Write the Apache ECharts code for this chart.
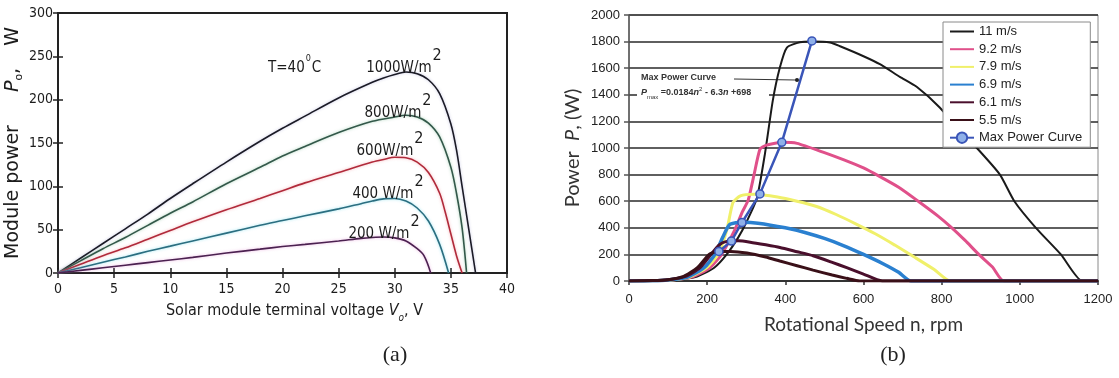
<!DOCTYPE html>
<html>
<head>
<meta charset="utf-8">
<script src="https://cdn.jsdelivr.net/npm/echarts@6/dist/echarts.min.js"></script>
<style>
  html, body { margin: 0; padding: 0; background: #fff; }
  #chart { width: 1119px; height: 378px; }
</style>
</head>
<body>
<div id="chart"></div>
<script>
// (a) module power vs terminal voltage at T = 40 C, points are [V, W]
const pv1000 = [[0,0],[2,17],[4,34],[6,51],[8,68],[10,86],[12,103],[15,128],[18,152],[20,167],[22,181],[25,202],[28,220],[29,225],[30,229],[31,232],[32,230],[33,223],[34,207],[35,172],[35.5,142],[36,100],[36.6,50],[37.2,0]];
const pv800 = [[0,0],[2,14],[4,28],[6,41],[8,55],[10,69],[12,82],[15,103],[18,122],[20,135],[22,146],[25,162],[28,175],[30,180],[31,182],[32,180],[33,173],[34,157],[35,122],[35.5,92],[36,52],[36.4,0]];
const pv600 = [[0,0],[2,10],[4,20],[6,29],[8,39],[10,49],[12,59],[15,73],[18,86],[20,95],[22,104],[25,116],[28,128],[29,131],[30,133.5],[31,133],[32,128],[33,116],[34,92],[34.5,70],[35,45],[35.5,20],[36,0]];
const pv400 = [[0,0],[2,6],[4,12.5],[6,18.5],[8,25],[10,31],[12,37],[15,46],[18,55],[20,60.5],[22,66],[25,74],[27,80],[28,83],[29,85.5],[30,86],[31,83],[32,75],[33,60],[34,33],[34.8,0]];
const pv200 = [[0,0],[2,3],[4,6],[6,9],[8,12],[10,15],[12,18],[15,23],[18,27.5],[20,30.5],[22,33],[25,37],[27,40],[28,41],[29,41.5],[30,40.5],[31,37],[32,28],[32.6,20],[33.2,0]];
const pvLabels = ['1000', '800', '600', '400', '200'];

// (b) turbine power vs rotational speed, points are [rpm, W]
const wind11 = [[0,0],[60,2],[110,8],[170,30],[218,100],[250,200],[280,330],[300,440],[327,620],[348,960],[368,1358],[386,1605],[404,1755],[437,1795],[470,1800],[514,1793],[540,1765],[600,1690],[642,1630],[693,1535],[736,1460],[795,1305],[850,1120],[890,1000],[949,800],[986,600],[1041,400],[1105,200],[1160,0],[1200,0]];
const wind92 = [[0,0],[60,2],[110,8],[160,30],[207,100],[237,200],[270,380],[290,520],[305,608],[320,800],[335,990],[350,1020],[391,1043],[430,1035],[500,965],[550,910],[600,850],[642,785],[690,705],[740,600],[790,490],[826,400],[860,305],[895,200],[930,105],[959,0],[1200,0]];
const wind79 = [[0,0],[60,2],[110,8],[155,30],[198,100],[228,200],[250,380],[266,590],[285,640],[320,652],[380,632],[430,600],[480,560],[530,500],[580,430],[630,355],[680,270],[730,180],[780,88],[822,0],[1200,0]];
const wind69 = [[0,0],[60,2],[100,8],[150,30],[192,100],[220,200],[240,330],[258,425],[290,442],[330,435],[400,400],[450,365],[500,320],[550,265],[600,200],[650,130],[690,65],[721,0],[1200,0]];
const wind61 = [[0,0],[60,3],[100,10],[145,35],[182,100],[210,200],[230,270],[250,298],[280,302],[310,292],[350,272],[386,252],[430,220],[471,190],[520,140],[557,100],[600,52],[648,0],[1200,0]];
const wind55 = [[0,0],[60,3],[100,10],[140,35],[175,100],[205,200],[225,222],[260,222],[302,210],[350,180],[386,150],[430,115],[471,82],[520,45],[557,20],[590,0],[1200,0]];
const maxPower = [[230,222],[262,300],[289,440],[335,655],[391,1043],[468,1805]];
const windNames = ['11 m/s', '9.2 m/s', '7.9 m/s', '6.9 m/s', '6.1 m/s', '5.5 m/s', 'Max Power Curve'];

const narrow = "'Liberation Sans Narrow', 'DejaVu Sans Condensed', 'Liberation Sans', sans-serif";
const arial = "'Liberation Sans', Arial, sans-serif";
const dejavu = "'DejaVu Sans', sans-serif";
const ink = '#1c1c1c';

const chart = echarts.init(document.getElementById('chart'));

function pvSeries(name, data, color, glow) {
  return {
    name: name, type: 'line', xAxisIndex: 0, yAxisIndex: 0,
    data: data, smooth: 0.3, symbol: 'none',
    lineStyle: { color: color, width: 1.6, shadowColor: glow, shadowBlur: 3 }
  };
}

function windSeries(name, data, color, width) {
  return {
    name: name, type: 'line', xAxisIndex: 2, yAxisIndex: 2,
    data: data, smooth: 0.2, symbol: 'none',
    itemStyle: { color: color },
    lineStyle: { color: color, width: width }
  };
}

// superscript "2" after W/m
function irrLabel(text, x, y) {
  return {
    type: 'text', x: x, y: y, z: 20,
    style: {
      text: '{n|' + text + '}{s|2}',
      align: 'center', verticalAlign: 'middle',
      rich: {
        n: { fontFamily: narrow, fontSize: 15, lineHeight: 28, verticalAlign: 'bottom', fill: ink },
        s: { fontFamily: narrow, fontSize: 16, lineHeight: 12, verticalAlign: 'top', fill: ink, padding: [0, 0, 0, 1] }
      }
    }
  };
}

const option = {
  animation: false,
  backgroundColor: '#fff',
  grid: [
    { left: 58, top: 13, width: 449, height: 260, show: true, borderColor: '#222', borderWidth: 2 },
    { left: 629, top: 15, width: 469, height: 266, show: true, borderColor: '#8a8a8a', borderWidth: 1 }
  ],
  xAxis: [
    {
      gridIndex: 0, type: 'value', min: 0, max: 40, interval: 5,
      axisLine: { lineStyle: { color: '#222', width: 2 } },
      axisTick: { inside: true, length: 5, lineStyle: { color: '#222', width: 1.5 } },
      axisLabel: { margin: 9, fontFamily: narrow, fontSize: 14, color: ink },
      splitLine: { show: false },
      name: '{t|Solar module terminal voltage }{i|V}{s|o}{t|, V}',
      nameLocation: 'middle', nameGap: 30,
      nameTextStyle: {
        padding: [0, 0, 0, 24],
        rich: {
          t: { fontFamily: narrow, fontSize: 16, color: ink, lineHeight: 20, verticalAlign: 'top' },
          i: { fontFamily: narrow, fontSize: 16, color: ink, fontStyle: 'italic', lineHeight: 20, verticalAlign: 'top' },
          s: { fontFamily: narrow, fontSize: 10, color: ink, fontStyle: 'italic', lineHeight: 12, verticalAlign: 'bottom' }
        }
      }
    },
    {
      gridIndex: 0, type: 'value', position: 'top', min: 0, max: 40, interval: 5,
      axisLine: { show: true, lineStyle: { color: '#222', width: 2 } },
      axisTick: { inside: true, length: 5, lineStyle: { color: '#222', width: 1.5 } },
      axisLabel: { show: false }, splitLine: { show: false }
    },
    {
      gridIndex: 1, type: 'value', min: 0, max: 1200, interval: 200,
      axisLine: { lineStyle: { color: '#333', width: 2 } },
      axisTick: { length: 4, lineStyle: { color: '#333', width: 1.5 } },
      axisLabel: { margin: 12, fontFamily: arial, fontSize: 13, color: '#222', formatter: (v) => String(v) },
      splitLine: { show: false },
      name: 'Rotational Speed n, rpm',
      nameLocation: 'middle', nameGap: 34,
      nameTextStyle: { fontFamily: 'Lato, sans-serif', fontSize: 19, color: '#333' }
    }
  ],
  yAxis: [
    {
      gridIndex: 0, type: 'value', min: 0, max: 300, interval: 50,
      axisLine: { lineStyle: { color: '#222', width: 2 } },
      axisTick: { inside: true, length: 5, lineStyle: { color: '#222', width: 1.5 } },
      axisLabel: { margin: 5, fontFamily: narrow, fontSize: 14, color: ink },
      splitLine: { show: false },
      name: '{t|Module power}{g|}{i|P}{s|o}{t|,}{h|}{t|W}',
      nameLocation: 'middle', nameRotate: 90, nameGap: 28,
      nameTextStyle: {
        rich: {
          t: { fontFamily: dejavu, fontSize: 19, color: ink, lineHeight: 22, verticalAlign: 'top' },
          g: { width: 33, lineHeight: 22 },
          h: { width: 22, lineHeight: 22 },
          i: { fontFamily: dejavu, fontSize: 19, color: ink, fontStyle: 'italic', lineHeight: 22, verticalAlign: 'top' },
          s: { fontFamily: dejavu, fontSize: 11, color: ink, lineHeight: 12, verticalAlign: 'bottom' }
        }
      }
    },
    {
      gridIndex: 0, type: 'value', position: 'right', min: 0, max: 300, interval: 50,
      axisLine: { show: true, lineStyle: { color: '#222', width: 2 } },
      axisTick: { show: true, inside: true, length: 5, lineStyle: { color: '#222', width: 1.5 } },
      axisLabel: { show: false }, splitLine: { show: false }
    },
    {
      gridIndex: 1, type: 'value', min: 0, max: 2000, interval: 200,
      axisLine: { show: true, lineStyle: { color: '#555', width: 1.5 } },
      axisTick: { show: true, length: 5, lineStyle: { color: '#555', width: 1.5 } },
      axisLabel: { margin: 9, fontFamily: arial, fontSize: 13, color: '#222', formatter: (v) => String(v) },
      splitLine: { show: true, lineStyle: { color: '#2a2a2a', width: 1.6 } },
      name: '{t|Power  }{i|P}{t|, (W)}',
      nameLocation: 'middle', nameRotate: 90, nameGap: 46,
      nameTextStyle: {
        rich: {
          t: { fontFamily: 'Lato, sans-serif', fontSize: 20, color: '#333' },
          i: { fontFamily: 'Lato, sans-serif', fontSize: 20, color: '#333', fontStyle: 'italic' }
        }
      }
    }
  ],
  legend: {
    // line-only keys, except the max power curve which keeps its circle
    data: windNames.map((n, i) => (i < 6 ? { name: n, itemStyle: { opacity: 0 } } : { name: n })),
    orient: 'vertical', left: 943, top: 22,
    itemWidth: 24, itemHeight: 13, itemGap: 4.7,
    padding: [3, 8, 3, 6],
    backgroundColor: '#fff', borderColor: '#8a8a8a', borderWidth: 1,
    textStyle: { fontFamily: arial, fontSize: 13, lineHeight: 13, color: '#222' }
  },
  graphic: [
    {
      type: 'text', x: 268, y: 65, z: 20,
      style: {
        text: '{n|T=40}{s|0}{n|C}', align: 'left', verticalAlign: 'middle',
        rich: {
          n: { fontFamily: narrow, fontSize: 15, lineHeight: 22, verticalAlign: 'bottom', fill: ink },
          s: { fontFamily: narrow, fontSize: 9, lineHeight: 10, verticalAlign: 'top', fill: ink, padding: [0, 1, 0, 1] }
        }
      }
    },
    irrLabel('1000W/m', 404, 62),
    irrLabel('800W/m', 398, 107),
    irrLabel('600W/m', 390, 145),
    irrLabel('400 W/m', 388, 188),
    irrLabel('200 W/m', 384, 228),
    {
      type: 'text', x: 395, y: 355, z: 20,
      style: { text: '(a)', align: 'center', verticalAlign: 'middle', fontFamily: "'Liberation Serif', serif", fontSize: 22, fill: '#222' }
    },
    {
      type: 'text', x: 893, y: 355, z: 20,
      style: { text: '(b)', align: 'center', verticalAlign: 'middle', fontFamily: "'Liberation Serif', serif", fontSize: 22, fill: '#222' }
    },
    // max power curve note: sits over the grid lines but under the curves
    { type: 'rect', z: 1, shape: { x: 637, y: 70, width: 132, height: 30 }, style: { fill: '#fff' } },
    {
      type: 'text', x: 641, y: 78, z: 1,
      style: { text: 'Max Power Curve', align: 'left', verticalAlign: 'middle', fontFamily: arial, fontSize: 9, fontWeight: 'bold', fill: '#333' }
    },
    { type: 'line', z: 1, shape: { x1: 734, y1: 79, x2: 796, y2: 80 }, style: { stroke: '#333', lineWidth: 1 } },
    { type: 'circle', z: 6, shape: { cx: 797, cy: 80, r: 2 }, style: { fill: '#222' } },
    {
      type: 'text', x: 641, y: 93, z: 1,
      style: {
        text: '{i|P}{b|max}{n| =0.0184}{i|n}{p|2}{n| - 6.3}{i|n}{n| +698}', align: 'left', verticalAlign: 'middle',
        rich: {
          n: { fontFamily: arial, fontSize: 9, fontWeight: 'bold', fill: '#333', lineHeight: 14, verticalAlign: 'middle' },
          i: { fontFamily: arial, fontSize: 9, fontStyle: 'italic', fontWeight: 'bold', fill: '#333', lineHeight: 14, verticalAlign: 'middle' },
          b: { fontFamily: arial, fontSize: 6, fill: '#333', lineHeight: 9, verticalAlign: 'bottom' },
          p: { fontFamily: arial, fontSize: 6, fill: '#333', lineHeight: 9, verticalAlign: 'top' }
        }
      }
    }
  ],
  series: [
    pvSeries(pvLabels[0], pv1000, '#1b1b26', 'rgba(90,90,170,0.35)'),
    pvSeries(pvLabels[1], pv800, '#33584a', 'rgba(90,170,120,0.5)'),
    pvSeries(pvLabels[2], pv600, '#b02a3a', 'rgba(240,110,120,0.5)'),
    pvSeries(pvLabels[3], pv400, '#2b6e80', 'rgba(90,210,230,0.6)'),
    pvSeries(pvLabels[4], pv200, '#4b2150', 'rgba(220,110,200,0.5)'),

    windSeries(windNames[0], wind11, '#1a1a1a', 2),
    windSeries(windNames[1], wind92, '#e0508a', 3),
    windSeries(windNames[2], wind79, '#f0f06a', 3),
    windSeries(windNames[3], wind69, '#2a80d0', 3.5),
    windSeries(windNames[4], wind61, '#4a0f2c', 3),
    windSeries(windNames[5], wind55, '#3a1018', 3),
    {
      name: windNames[6], type: 'line', xAxisIndex: 2, yAxisIndex: 2,
      data: maxPower, symbol: 'circle', symbolSize: 8, showSymbol: true,
      itemStyle: { color: '#8fb0e8', borderColor: '#3a55b8', borderWidth: 1.5 },
      lineStyle: { color: '#3a55b8', width: 2.5 },
      z: 5
    }
  ]
};

chart.setOption(option);
</script>
</body>
</html>
